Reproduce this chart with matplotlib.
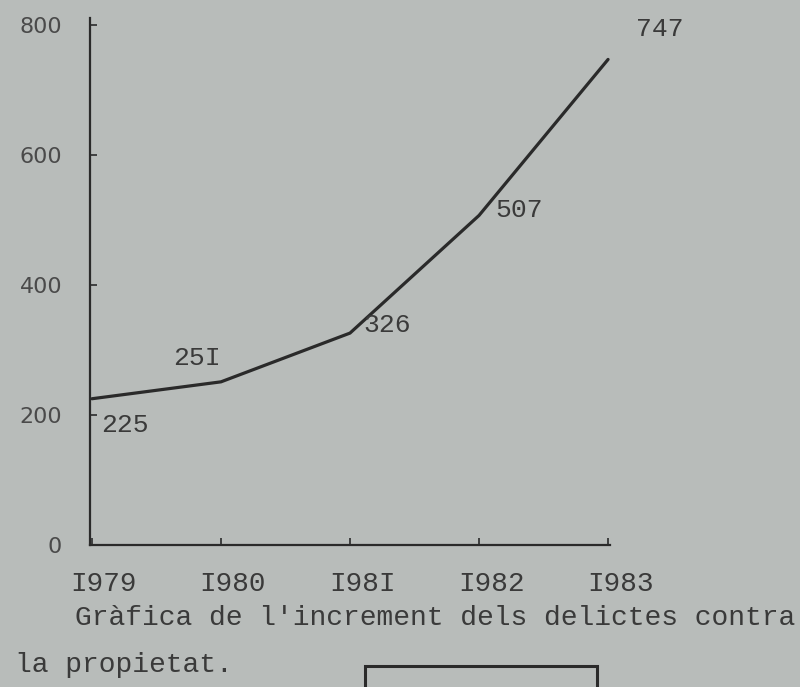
import matplotlib
matplotlib.use("Agg")
import matplotlib.pyplot as plt
import matplotlib.transforms as mtransforms
from matplotlib.patches import Rectangle

# ---- data ----
years = [1979, 1980, 1981, 1982, 1983]
year_labels = ["I979", "I980", "I98I", "I982", "I983"]
delictes = [225, 251, 326, 507, 747]
value_labels = ["225", "25I", "326", "507", "747"]
y_ticks = [0, 200, 400, 600, 800]

# offsets (points) of each value label from its point
label_offsets = [(24, -19), (-17, 17), (27, 6), (29, 4), (37, 22)]

PAPER = "#b8bcba"
INK = "#2a2a2a"
TYPE = "#3a3a3a"
MONO = ["Liberation Mono", "DejaVu Sans Mono"]

fig = plt.figure(figsize=(8, 6.87), dpi=100, facecolor=PAPER)
ax = fig.add_axes([0.1125, 0.2067, 0.65, 0.7664])
ax.set_facecolor(PAPER)

ax.plot(years, delictes, color=INK, lw=2.3, solid_capstyle="round")

for x, y, txt, off in zip(years, delictes, value_labels, label_offsets):
    ax.annotate(txt, (x, y), textcoords="offset points", xytext=off,
                ha="center", va="center", fontsize=19, family=MONO, color=TYPE)

ax.set_xlim(1978.985, 1983.015)
ax.set_ylim(0, 810)

for side in ["top", "right"]:
    ax.spines[side].set_visible(False)
for side in ["left", "bottom"]:
    ax.spines[side].set_color(INK)
    ax.spines[side].set_linewidth(1.6)

ax.set_yticks(y_ticks)
ax.set_yticklabels([str(v) for v in y_ticks], family="DejaVu Sans",
                   fontsize=16, color="#4a4a4a")
ax.tick_params(axis="y", direction="in", length=5, width=1.2, color=INK, pad=20)

ax.set_xticks(years)
ax.set_xticklabels(year_labels, family=MONO, fontsize=20, color=TYPE)
ax.tick_params(axis="x", direction="in", length=5, width=1.2, color=INK, pad=19)
shift = mtransforms.ScaledTranslation(12 / 100, 0, fig.dpi_scale_trans)
for lab in ax.get_xticklabels():
    lab.set_transform(lab.get_transform() + shift)

# caption typed under the chart
fig.text(75 / 800, 1 - 618 / 687, "Gràfica de l'increment dels delictes contra",
         family=MONO, fontsize=20.2, color=TYPE, va="center", ha="left")
fig.text(15 / 800, 1 - 665 / 687, "la propietat.",
         family=MONO, fontsize=20.2, color=TYPE, va="center", ha="left")

# box cut off at bottom of the page
fig.patches.append(Rectangle((365 / 800, -0.05), 232 / 800, 0.05 + 21 / 687,
                             transform=fig.transFigure, fill=False,
                             edgecolor=INK, lw=2.2))

fig.savefig("out.png", dpi=100, facecolor=PAPER)
